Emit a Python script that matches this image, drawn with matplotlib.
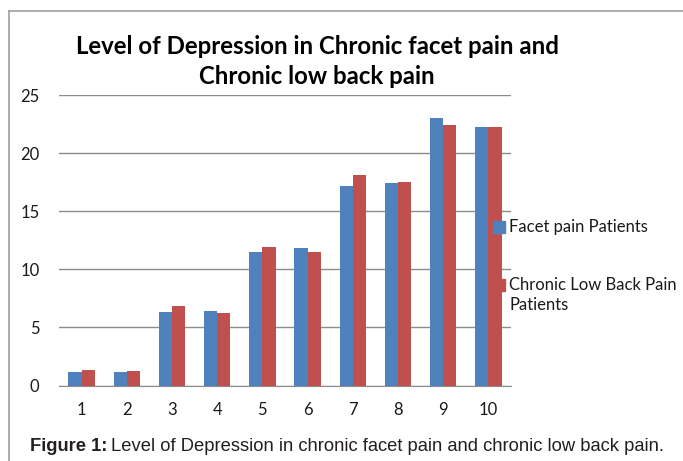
import matplotlib.pyplot as plt
import numpy as np
from matplotlib.lines import Line2D

categories = ['1', '2', '3', '4', '5', '6', '7', '8', '9', '10']
facet = [1.17, 1.17, 6.36, 6.45, 11.52, 11.83, 17.16, 17.39, 23.0, 22.23]
low_back = [1.32, 1.26, 6.82, 6.22, 11.92, 11.46, 18.14, 17.54, 22.4, 22.23]
series_names = ['Facet pain Patients', 'Chronic Low Back Pain\nPatients']
yticks = [0, 5, 10, 15, 20, 25]

blue = '#4F81BD'
red = '#C0504D'
grid_col = '#8C8C8C'

fig = plt.figure(figsize=(6.83, 4.61), dpi=100)
W, H = 683, 461
ax = fig.add_axes([59 / W, 1 - 385.5 / H, (511 - 59) / W, (385.5 - 95) / H])

x = np.arange(len(categories))
w = 0.29
ax.bar(x - w / 2, facet, w, color=blue, zorder=3)
ax.bar(x + w / 2, low_back, w, color=red, zorder=3)

ax.set_xlim(-0.5, len(categories) - 0.5)
ax.set_ylim(0, 25)
ax.set_yticks(yticks)
ax.set_xticks(x)
ax.set_xticklabels(categories)
ax.yaxis.grid(True, color=grid_col, linewidth=1.0, zorder=0)
for s in ['top', 'right', 'left']:
    ax.spines[s].set_visible(False)
ax.spines['bottom'].set_color(grid_col)
ax.tick_params(axis='both', length=0, labelsize=12, colors='#1a1a1a')
ax.tick_params(axis='x', pad=12)
ax.tick_params(axis='y', pad=14)
for lab in ax.get_xticklabels() + ax.get_yticklabels():
    lab.set_family('Lato')

# title
fig.text(317 / W, 1 - 47 / H, 'Level of Depression in Chronic facet pain and',
         ha='center', va='center', fontsize=17.3, fontweight='bold', family='Lato')
fig.text(317 / W, 1 - 77 / H, 'Chronic low back pain',
         ha='center', va='center', fontsize=17.3, fontweight='bold', family='Lato')

# legend
fig.patches.append(plt.Rectangle((493 / W, 1 - 233 / H), 12 / W, 12 / H,
                                 transform=fig.transFigure, color=blue))
fig.text(509 / W, 1 - 227 / H, series_names[0], ha='left', va='center',
         fontsize=12, family='Lato', color='#1a1a1a')
fig.patches.append(plt.Rectangle((493 / W, 1 - 291 / H), 12 / W, 12 / H,
                                 transform=fig.transFigure, color=red))
fig.text(509 / W, 1 - 295 / H, series_names[1], ha='left', va='center',
         fontsize=12, family='Lato', color='#1a1a1a', linespacing=1.3)

# chart border
fig.add_artist(Line2D([9 / W, 9 / W], [0, 1 - 11 / H], color='#A0A0A0', lw=1.2))
fig.add_artist(Line2D([9 / W, 1], [1 - 11 / H, 1 - 11 / H], color='#A0A0A0', lw=1.2))

# caption
t1 = fig.text(30 / W, 1 - 446 / H, 'Figure 1:', ha='left', va='center',
              fontsize=13.2, fontweight='bold', family='Liberation Sans', color='#231f20')
fig.canvas.draw()
bb = t1.get_window_extent()
fig.text(bb.x1 / W + 4 / W, 1 - 446 / H,
         'Level of Depression in chronic facet pain and chronic low back pain.',
         ha='left', va='center', fontsize=13.2, family='Liberation Sans', color='#231f20')

fig.savefig('out.png', dpi=100)
